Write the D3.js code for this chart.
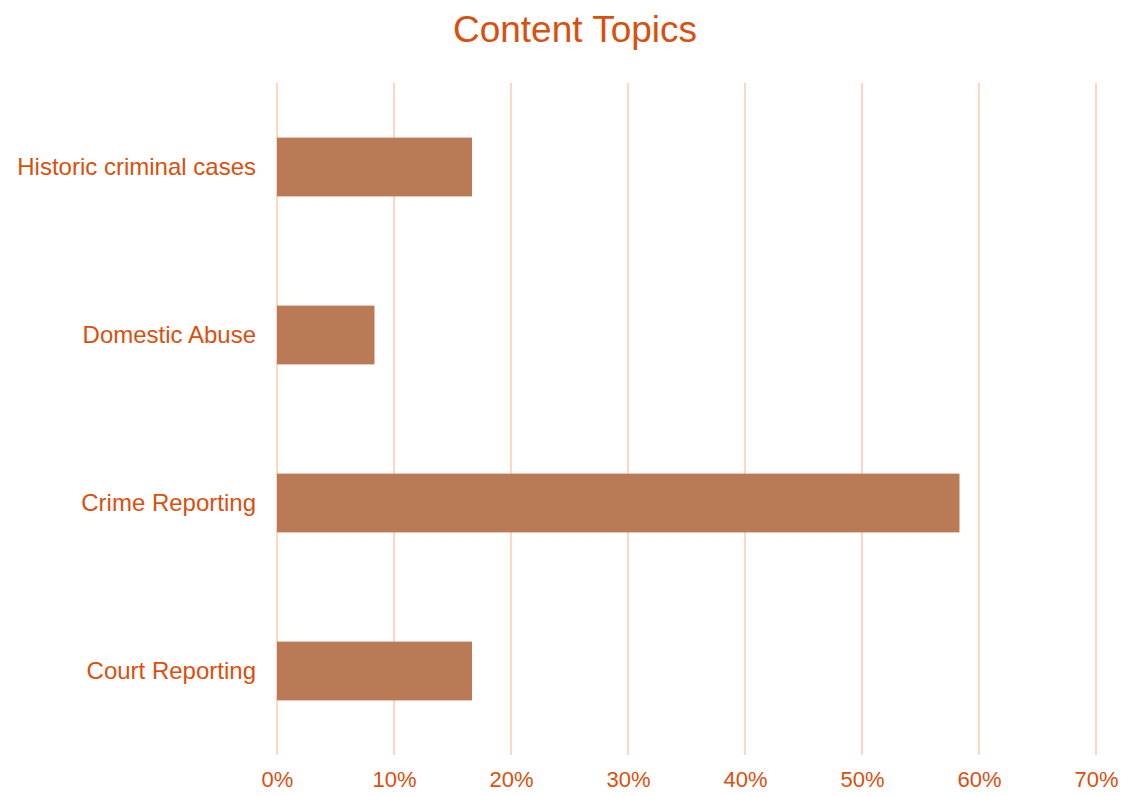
<!DOCTYPE html>
<html>
<head>
<meta charset="utf-8">
<script src="https://cdn.jsdelivr.net/npm/d3@7"></script>
<style>
  html, body { margin: 0; padding: 0; background: #fff; }
  svg { display: block; font-family: "Liberation Sans", Arial, sans-serif; }
</style>
</head>
<body>
<svg id="chart" width="1123" height="796"></svg>
<script>
// Share of content by topic
const categories = ["Historic criminal cases", "Domestic Abuse", "Crime Reporting", "Court Reporting"];
const shares = [0.1667, 0.0833, 0.5833, 0.1667];
const tickValues = [0, 0.1, 0.2, 0.3, 0.4, 0.5, 0.6, 0.7];

const textColor = "#D9500E";
const barColor = "#BB7A56";
const gridColor = "#FFD6C2";

const svg = d3.select("#chart");
const margin = { top: 83, right: 27, bottom: 41, left: 277 };
const width = 1123 - margin.left - margin.right;
const height = 796 - margin.top - margin.bottom;

const x = d3.scaleLinear().domain([0, 0.7]).range([0, width]);
const y = d3.scaleBand().domain(categories).range([0, height]).paddingInner(0.65).paddingOuter(0.325);

const g = svg.append("g").attr("transform", `translate(${margin.left},${margin.top})`);

// vertical gridlines
g.append("g").selectAll("line").data(tickValues).join("line")
  .attr("x1", d => x(d)).attr("x2", d => x(d))
  .attr("y1", 0).attr("y2", height)
  .attr("stroke", gridColor).attr("stroke-width", 2);

// bars
g.append("g").selectAll("rect").data(categories).join("rect")
  .attr("x", x(0))
  .attr("y", d => y(d))
  .attr("width", (d, i) => x(shares[i]) - x(0))
  .attr("height", y.bandwidth())
  .attr("fill", barColor);

// x axis labels
const xAxis = g.append("g").attr("transform", `translate(0,${height})`)
  .call(d3.axisBottom(x).tickValues(tickValues).tickFormat(d3.format(".0%")).tickSize(0).tickPadding(16));
xAxis.select(".domain").remove();
xAxis.selectAll("text").attr("fill", textColor).style("font-size", "22px");

// y axis labels
const yAxis = g.append("g")
  .call(d3.axisLeft(y).tickSize(0).tickPadding(21));
yAxis.select(".domain").remove();
yAxis.selectAll("text").attr("fill", textColor).style("font-size", "24px");

// title
svg.append("text")
  .attr("x", 575).attr("y", 42)
  .attr("text-anchor", "middle")
  .attr("fill", textColor)
  .style("font-size", "37px")
  .text("Content Topics");
</script>
</body>
</html>
